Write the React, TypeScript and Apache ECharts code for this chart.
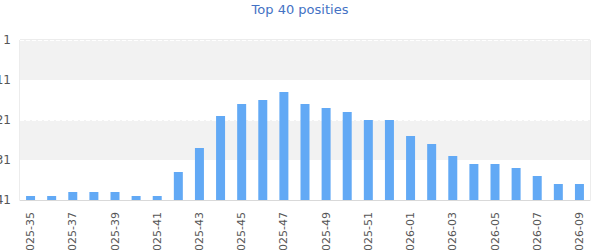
import React, { useEffect, useRef } from "react";
import * as echarts from "echarts";

const weeks: string[] = [
  "2025-35", "2025-36", "2025-37", "2025-38", "2025-39", "2025-40", "2025-41", "2025-42", "2025-43",
  "2025-44", "2025-45", "2025-46", "2025-47", "2025-48", "2025-49", "2025-50", "2025-51", "2025-52",
  "2026-01", "2026-02", "2026-03", "2026-04", "2026-05", "2026-06", "2026-07", "2026-08", "2026-09",
];

const positions: number[] = [
  40, 40, 39, 39, 39, 40, 40, 34, 28,
  20, 17, 16, 14, 17, 18, 19, 21, 21,
  25, 27, 30, 32, 32, 33, 35, 37, 37,
];

const topPosition = 1;
const bottomPosition = 41;
const tickStep = 10;

export default function App() {
  const ref = useRef<HTMLDivElement>(null);

  useEffect(() => {
    if (!ref.current) return;
    const chart = echarts.init(ref.current, undefined, { renderer: "svg" });
    chart.setOption({
      animation: false,
      textStyle: { fontFamily: "DejaVu Sans" },
      title: {
        text: "Top 40 posities",
        left: "center",
        top: -2,
        textStyle: { color: "#4472c4", fontSize: 13, fontWeight: "normal", fontFamily: "DejaVu Sans" },
      },
      grid: {
        left: 20,
        right: 10,
        top: 40,
        bottom: 50,
        containLabel: false,
        outerBoundsMode: "none",
        show: true,
        borderColor: "#d9d9d9",
        borderWidth: 1,
        backgroundColor: "transparent",
      },
      xAxis: {
        type: "category",
        data: weeks,
        axisLine: { show: true, lineStyle: { color: "#d9d9d9" } },
        axisTick: { show: false },
        axisLabel: {
          rotate: 90,
          interval: 1,
          color: "#555",
          fontSize: 11,
          margin: 12,
          fontFamily: "DejaVu Sans",
        },
      },
      yAxis: {
        type: "value",
        inverse: true,
        min: topPosition,
        max: bottomPosition,
        interval: tickStep,
        axisLine: { show: false },
        axisTick: { show: false },
        axisLabel: { color: "#555", fontSize: 12, margin: 9, fontFamily: "DejaVu Sans" },
        splitLine: { show: true, lineStyle: { color: "#ffffff", type: "dashed" } },
        splitArea: { show: true, areaStyle: { color: ["#f2f2f2", "#ffffff"] } },
      },
      series: [
        {
          type: "bar",
          stack: "pos",
          data: positions,
          barWidth: 9,
          itemStyle: { color: "transparent" },
          silent: true,
        },
        {
          type: "bar",
          stack: "pos",
          data: positions.map((p) => bottomPosition - p),
          barWidth: 9,
          itemStyle: { color: "#62a9f5" },
        },
      ],
    });
    return () => chart.dispose();
  }, []);

  return (
    <div
      ref={ref}
      style={{ position: "absolute", left: 0, top: 0, width: 600, height: 250 }}
    />
  );
}
